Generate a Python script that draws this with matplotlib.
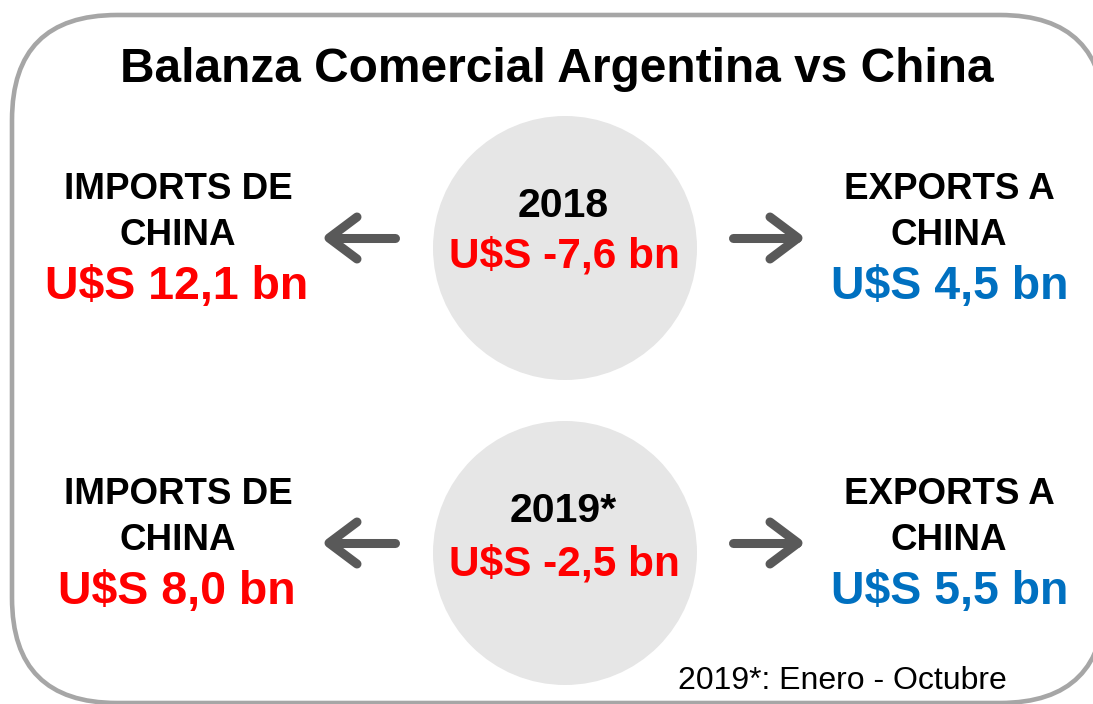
import matplotlib
matplotlib.use("Agg")
import matplotlib.pyplot as plt
from matplotlib.patches import Circle, FancyBboxPatch

# ---- data ----
title = "Balanza Comercial Argentina vs China"
years = ["2018", "2019*"]
imports_bn = [12.1, 8.0]
exports_bn = [4.5, 5.5]
balance_bn = [-7.6, -2.5]
imports_label = ["IMPORTS DE", "CHINA"]
exports_label = ["EXPORTS A", "CHINA"]
footnote = "2019*: Enero - Octubre"


def fmt(v):
    return "U$S " + f"{v:.1f}".replace(".", ",") + " bn"


plt.rcParams['font.family'] = ['Liberation Sans', 'DejaVu Sans']

W, H = 1093, 704
fig = plt.figure(figsize=(W / 100, H / 100), dpi=100)
ax = fig.add_axes([0, 0, 1, 1])
ax.set_xlim(0, W)
ax.set_ylim(H, 0)
ax.set_aspect('equal')
ax.axis('off')

RED = "#FF0000"
BLUE = "#0070C0"
ARROW = "#595959"

# outer rounded border
border = FancyBboxPatch((12, 15), 1093, 688,
                        boxstyle="round,pad=0,rounding_size=105",
                        facecolor="white", edgecolor="#A6A6A6", linewidth=3.3)
ax.add_patch(border)

ax.text(557, 82, title, ha='center', va='baseline', fontsize=34.5,
        fontweight='bold', color='black')

row_offset = 305
for i, yr in enumerate(years):
    dy = i * row_offset
    # circle
    ax.add_patch(Circle((565, 248 + dy), 132, facecolor="#E6E6E6",
                        edgecolor="none"))
    ax.text(563, 217 + dy, yr, ha='center', va='baseline', fontsize=29.5,
            fontweight='bold', color='black')
    ax.text(564, 267 + dy + 4 * i, fmt(balance_bn[i]), ha='center',
            va='baseline', fontsize=30.5, fontweight='bold', color=RED)

    # imports side
    ax.text(178, 199 + dy, imports_label[0], ha='center', va='baseline',
            fontsize=26.5, fontweight='bold', color='black')
    ax.text(178, 245 + dy, imports_label[1], ha='center', va='baseline',
            fontsize=26.5, fontweight='bold', color='black')
    ax.text(177, 299 + dy, fmt(imports_bn[i]), ha='center', va='baseline',
            fontsize=33.5, fontweight='bold', color=RED)

    # exports side
    ax.text(949, 199 + dy, exports_label[0], ha='center', va='baseline',
            fontsize=26.5, fontweight='bold', color='black')
    ax.text(949, 245 + dy, exports_label[1], ha='center', va='baseline',
            fontsize=26.5, fontweight='bold', color='black')
    ax.text(950, 299 + dy, fmt(exports_bn[i]), ha='center', va='baseline',
            fontsize=33.5, fontweight='bold', color=BLUE)

    # arrows
    ya = 238 + dy
    kw = dict(color=ARROW, linewidth=6.5, solid_capstyle='round',
              solid_joinstyle='round')
    # left arrow
    ax.plot([330, 395], [ya, ya], **kw)
    ax.plot([357, 329, 357], [ya - 21, ya, ya + 21], **kw)
    # right arrow
    ax.plot([733, 797], [ya, ya], **kw)
    ax.plot([770, 798, 770], [ya - 21, ya, ya + 21], **kw)

ax.text(842, 689, footnote, ha='center', va='baseline', fontsize=23,
        color='black')

fig.savefig("out.png", dpi=100)
